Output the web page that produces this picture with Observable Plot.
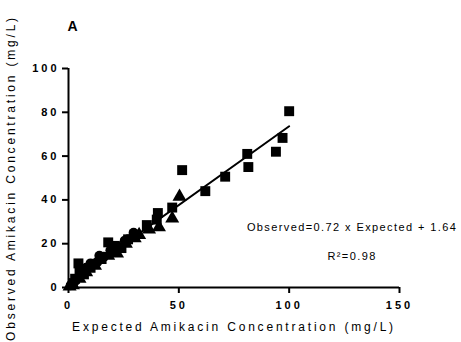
<!DOCTYPE html>
<html><head><meta charset="utf-8">
<script src="https://cdn.jsdelivr.net/npm/d3@7"></script>
<script src="https://cdn.jsdelivr.net/npm/@observablehq/plot@0.6"></script>
<style>
body{margin:0;background:#fff;}
#chart svg{font-family:"Liberation Sans",Arial,sans-serif;}
g[aria-label="x-axis tick label"] text, g[aria-label="y-axis tick label"] text{letter-spacing:3px;}
</style></head><body><div id="chart"></div>
<script>
// Expected (x) vs observed (y) amikacin concentration, mg/L
const squaresX = [100, 97, 94, 81, 81.5, 71, 62, 51.5, 47, 40.5, 40, 35.5, 18, 4.5, 21, 24, 27, 20, 5, 7, 3, 10, 2, 15, 30];
const squaresY = [80.5, 68.3, 62, 61, 55, 50.6, 44, 53.6, 36.5, 34, 31, 28.5, 20.6, 11, 19, 18, 22, 16.5, 8, 6, 4, 9, 2, 13, 24];
const trianglesX = [50.3, 47, 41, 36.5, 30, 22, 18, 12, 5, 2, 8, 0.5, 26, 32];
const trianglesY = [41.5, 31.5, 27.5, 26.5, 22.5, 15.5, 14.5, 10, 4, 1, 7, 0.5, 20, 24];
const circlesX = [29.5, 25.5, 27, 22, 16, 14, 12, 10, 8, 6, 5, 3, 1, 13, 19];
const circlesY = [25, 21.4, 22, 19, 14, 14.5, 11, 11, 9, 7, 5, 3, 1, 11.5, 17];
const fitSlope = 0.72, fitIntercept = 1.64, fitRange = [0, 100];
const xTicks = [0, 50, 100, 150];
const yTicks = [0, 20, 40, 60, 80, 100];
const xTitle = "Expected Amikacin Concentration (mg/L)";
const yTitle = "Observed Amikacin Concentration (mg/L)";
const panelLabel = "A";
const equationLines = ["Observed=0.72 x Expected + 1.64", "R²=0.98"];
const equationPos = {x: 128.5, y: [27.4, 14.2]};

const pts = (xs, ys) => xs.map((x, i) => ({x, y: ys[i]}));
const squares = pts(squaresX, squaresY);
const triangles = pts(trianglesX, trianglesY);
const circles = pts(circlesX, circlesY);
const fit = fitRange.map(x => ({x, y: fitSlope * x + fitIntercept}));
const eq = equationLines.map((t, i) => ({x: equationPos.x, y: equationPos.y[i], t}));

const plot = Plot.plot({
  width: 461, height: 342,
  marginLeft: 68, marginRight: 62, marginTop: 68, marginBottom: 55,
  style: {fontFamily: "Liberation Sans, Arial, sans-serif", background: "#fff", color: "#000"},
  x: {domain: [0, 150]},
  y: {domain: [0, 100]},
  marks: [
    Plot.axisX({ticks: xTicks, tickSize: 6, tickPadding: 8, strokeWidth: 2, fontWeight: "bold", fontSize: 11, label: null}),
    Plot.axisY({ticks: yTicks, tickSize: 6, tickPadding: 3, strokeWidth: 2, fontWeight: "bold", fontSize: 11, label: null}),
    Plot.ruleY([0], {strokeWidth: 2}),
    Plot.ruleX([0], {strokeWidth: 2}),
    Plot.line(fit, {x: "x", y: "y", strokeWidth: 2}),
    Plot.dot(circles, {x: "x", y: "y", r: 5, fill: "black", stroke: "none"}),
    Plot.dot(triangles, {x: "x", y: "y", symbol: "triangle", r: 5.2, fill: "black", stroke: "none"}),
    Plot.dot(squares, {x: "x", y: "y", symbol: "square", r: 5.6, fill: "black", stroke: "none"}),
    Plot.text(eq, {x: "x", y: "y", text: "t", fontSize: 11}),
    Plot.text([xTitle], {frameAnchor: "bottom", lineAnchor: "middle", textAnchor: "middle", dy: 40, fontSize: 12}),
    Plot.text([yTitle], {frameAnchor: "left", lineAnchor: "middle", textAnchor: "middle", dx: -57, rotate: -90, fontSize: 12}),
    Plot.text([panelLabel], {frameAnchor: "top-left", dy: -47, dx: -1, textAnchor: "start", fontWeight: "bold", fontSize: 14})
  ]
});
d3.select(plot).selectAll("text").each(function() {
  const t = this.textContent;
  if (t === xTitle || t === yTitle) this.style.letterSpacing = "2.8px";
  else if (equationLines.includes(t)) this.style.letterSpacing = "1.4px";
});
document.getElementById("chart").appendChild(plot);
</script></body></html>
